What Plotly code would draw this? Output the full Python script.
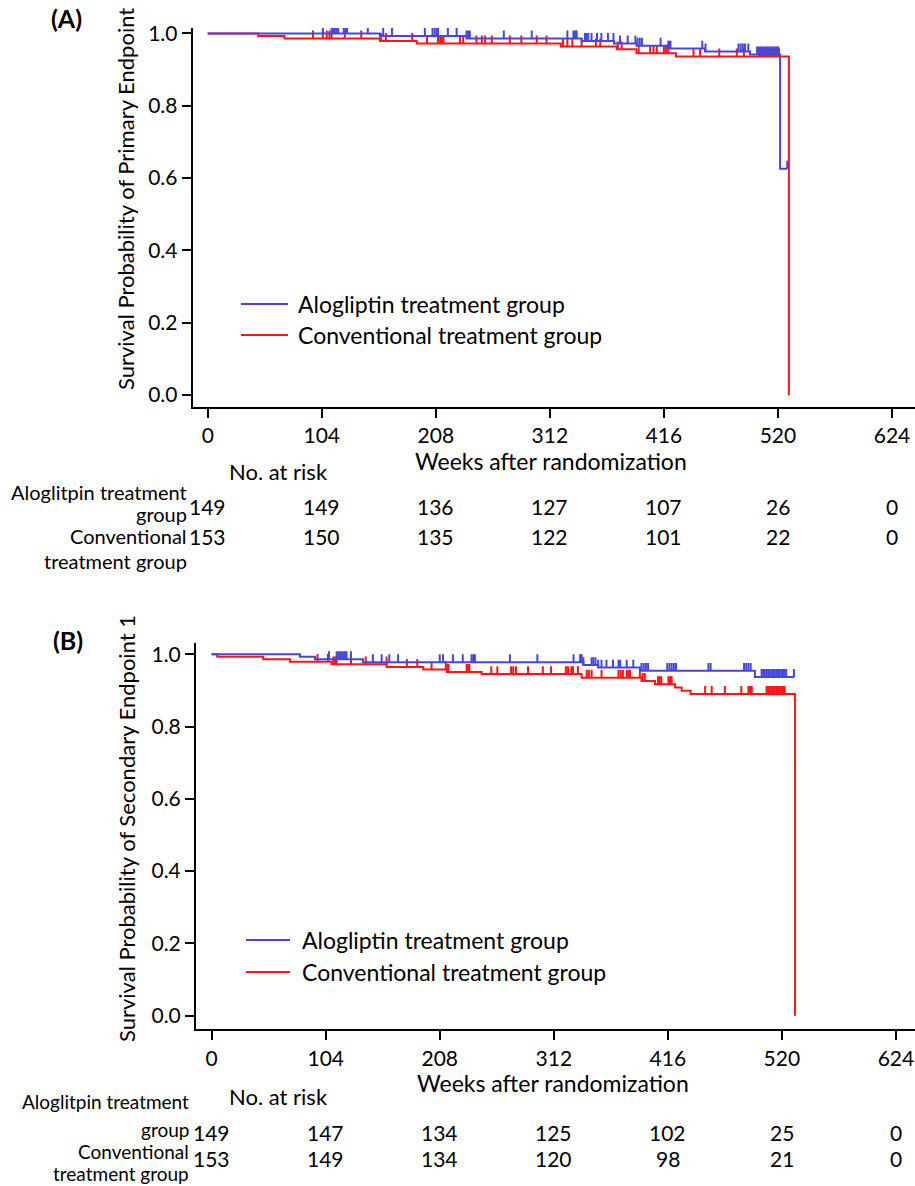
import plotly.graph_objects as go

W, H = 915, 1186
FONT = "Lato"
BLUE = "rgb(70,70,222)"
RED = "rgb(255,20,20)"

weeks_ticks = [0, 104, 208, 312, 416, 520, 624]
surv_ticks = [0.0, 0.2, 0.4, 0.6, 0.8, 1.0]

# ---------------- Panel A : primary endpoint ----------------
a_blue_times = [0, 157, 236, 341, 370.5, 391, 420, 453.5, 494.5, 522]
a_blue_surv = [1.0, 0.993, 0.986, 0.979, 0.972, 0.966, 0.958, 0.950, 0.942, 0.626]
a_blue_last = 528.5
a_blue_cens = [105, 113, 114.5, 116, 117.5, 119, 124, 125.5, 127, 146, 160, 168, 198,
               205, 207, 209, 210, 219, 227, 236, 237.5, 239, 270, 295.5, 328, 333.5,
               335, 336.5, 344, 345.5, 347, 350, 355, 359, 365, 370, 376, 383, 390,
               392, 394, 396, 413, 420, 421, 422, 451, 454, 484, 486, 488, 490, 493,
               501, 502.5, 504, 505.5, 507, 508.5, 510, 511.5, 513, 514.5, 516, 517.5,
               519, 520.5, 528.5]

a_red_times = [0, 46, 70, 157, 190.6, 322, 373, 391, 427, 530]
a_red_surv = [1.0, 0.993, 0.986, 0.979, 0.972, 0.964, 0.956, 0.945, 0.936, 0.0]
a_red_last = 530
a_red_cens = [96, 105, 108.5, 111, 113, 125, 140, 158, 162.5, 186.5, 200, 210, 212,
              213.5, 215, 230, 233, 245, 250, 253, 259, 275.5, 286, 300, 309, 324,
              328, 332.5, 341, 354, 358, 374, 377.5, 393, 403.5, 406.5, 409.5, 416,
              418, 420, 443, 449, 466.5, 482.5, 489, 503, 504.5, 506, 507.5, 509,
              510.5, 512, 513.5, 515, 516.5, 518, 519.5, 521]

a_risk_blue = [149, 149, 136, 127, 107, 26, 0]
a_risk_red = [153, 150, 135, 122, 101, 22, 0]

# ---------------- Panel B : secondary endpoint 1 ----------------
b_blue_times = [0, 80.5, 94.2, 138, 338.9, 352.5, 390.6, 495.4]
b_blue_surv = [1.0, 0.993, 0.986, 0.978, 0.970, 0.963, 0.954, 0.937]
b_blue_last = 531
b_blue_cens = [107, 114, 115.5, 117, 118.5, 120, 121.5, 123, 127, 147, 155, 162, 170,
               208, 211, 220, 229, 237, 238.5, 240, 272, 297, 330, 336, 337.5, 339,
               346.5, 348, 350, 352.5, 355.5, 360, 366, 371, 372.5, 378.5, 384.5, 392,
               394, 396, 398, 415.5, 417.5, 419.5, 421.5, 423.5, 453, 455, 485.5,
               487.5, 489.5, 491.5, 501.5, 503, 504.5, 506, 507.5, 509, 510.5, 512,
               513.5, 515, 516.5, 518, 519.5, 521, 522.5, 524, 531]

b_red_times = [0, 5.1, 47, 71.4, 109.4, 159.6, 193, 214.3, 246.2, 337.4, 392, 404.3,
               422.5, 428.6, 436.8, 532]
b_red_surv = [1.0, 0.993, 0.986, 0.979, 0.972, 0.965, 0.958, 0.951, 0.945, 0.935,
              0.926, 0.917, 0.908, 0.899, 0.890, 0.0]
b_red_last = 532
b_red_cens = [96.5, 106, 111, 112.5, 114, 127, 140.5, 159.5, 178, 187.5, 200.5, 213.5,
              215, 216, 232.5, 234, 235, 255, 260.5, 273, 275, 277.5, 288.5, 302,
              309.5, 323, 325, 328, 329.5, 334, 342, 344, 346.5, 355.5, 371, 373, 375,
              378.5, 380, 381.5, 390.5, 393, 395, 407, 408.5, 410, 416.5, 418, 419.5,
              450, 456, 468, 483, 489.5, 491, 492.5, 506, 507.5, 509, 510.5, 512,
              513.5, 515, 516.5, 518, 519.5, 521, 522.5]

b_risk_blue = [149, 147, 134, 125, 102, 25, 0]
b_risk_red = [153, 149, 134, 120, 98, 21, 0]

legend_labels = ["Alogliptin treatment group", "Conventional treatment group"]
row_label_blue = "Aloglitpin treatment"
row_label_red = "Conventional"
ytitle_a = "Survival Probability of Primary Endpoint"
ytitle_b = "Survival Probability of Secondary Endpoint 1"
xtitle = "Weeks after randomization"


def surv_at(t, times, surv):
    s = surv[0]
    for ti, si in zip(times, surv):
        if ti <= t:
            s = si
    return s


def px(x):
    return x / W


def py(y):
    return 1 - y / H


TICK_H = 0.022

fig = go.Figure()


def add_curves(times, surv, last, cens, color, xa, ya):
    fig.add_trace(go.Scatter(x=list(times) + [last], y=list(surv) + [surv[-1]],
                             mode="lines", line=dict(color=color, width=2, shape="hv"),
                             xaxis=xa, yaxis=ya, showlegend=False, hoverinfo="skip"))
    cy = [surv_at(t, times, surv) for t in cens]
    fig.add_trace(go.Scatter(x=cens, y=cy, mode="markers",
                             marker=dict(size=1, color="rgba(0,0,0,0)"),
                             error_y=dict(type="data", symmetric=False,
                                          array=[TICK_H] * len(cens),
                                          arrayminus=[0] * len(cens),
                                          width=0, thickness=2, color=color),
                             xaxis=xa, yaxis=ya, showlegend=False, hoverinfo="skip"))


add_curves(a_red_times, a_red_surv, a_red_last, a_red_cens, RED, "x", "y")
add_curves(a_blue_times, a_blue_surv, a_blue_last, a_blue_cens, BLUE, "x", "y")
add_curves(b_red_times, b_red_surv, b_red_last, b_red_cens, RED, "x2", "y2")
add_curves(b_blue_times, b_blue_surv, b_blue_last, b_blue_cens, BLUE, "x2", "y2")

axis_common = dict(showline=True, linecolor="black", linewidth=2, ticks="outside",
                   ticklen=9, tickwidth=2, tickcolor="black", showgrid=False,
                   zeroline=False, automargin=False,
                   tickfont=dict(family=FONT, size=21, color="black"))

fig.update_layout(
    width=W, height=H, autosize=False,
    margin=dict(l=0, r=0, t=0, b=0),
    paper_bgcolor="white", plot_bgcolor="white",
    showlegend=False,
    font=dict(family=FONT, color="black"),
    xaxis=dict(domain=[px(192.7), 1], range=[-13.7, 645], tickvals=weeks_ticks,
               anchor="y", **axis_common),
    yaxis=dict(domain=[py(406.7), py(28)], range=[-0.032, 1.015], tickvals=surv_ticks,
               tickformat=".1f", anchor="x", **axis_common),
    xaxis2=dict(domain=[px(196), 1], range=[-14.3, 641.4], tickvals=weeks_ticks,
                anchor="y2", **axis_common),
    yaxis2=dict(domain=[py(1029.3), py(643.4)], range=[-0.0376, 1.03],
                tickvals=surv_ticks, tickformat=".1f", anchor="x2", **axis_common),
)

ann = []
shapes = []


def text(x, y, s, size=22, xanchor="center", bold=False, angle=0, xref="paper"):
    ann.append(dict(x=x, y=py(y), xref=xref, yref="paper", text=(f"<b>{s}</b>" if bold else s),
                    showarrow=False, xanchor=xanchor, yanchor="middle", textangle=angle,
                    font=dict(family=FONT, size=size, color="black")))


# Panel labels
text(px(66), 18, "(A)", size=25, bold=True)
text(px(68), 640, "(B)", size=25, bold=True)

# Y titles
text(px(125), 199, ytitle_a, size=22, angle=-90)
text(px(127), 829, ytitle_b, size=22, angle=-90)

# X titles
text(px(551), 461, xtitle, size=23)
text(px(553), 1083, xtitle, size=23)


def legend(y_blue, y_red, x0, x1, xt):
    for y, c, lab in [(y_blue, BLUE, legend_labels[0]), (y_red, RED, legend_labels[1])]:
        shapes.append(dict(type="line", xref="paper", yref="paper", x0=px(x0), x1=px(x1),
                           y0=py(y), y1=py(y), line=dict(color=c, width=2)))
        text(px(xt), y, lab, size=23, xanchor="left")


legend(304, 335, 241, 288, 296)
legend(940, 972, 246, 290, 300)


def risk_table(xref, ys, risk_b, risk_r, label_x, lab_y, lab_size):
    text(px(278), ys[0], "No. at risk", size=22)
    for wk, v in zip(weeks_ticks, risk_b):
        text(wk, ys[1], str(v), size=21, xref=xref)
    for wk, v in zip(weeks_ticks, risk_r):
        text(wk, ys[2], str(v), size=21, xref=xref)
    text(px(label_x), lab_y[0], row_label_blue, size=lab_size, xanchor="right")
    text(px(label_x), lab_y[1], "group", size=lab_size, xanchor="right")
    text(px(label_x), lab_y[2], row_label_red, size=lab_size, xanchor="right")
    text(px(label_x), lab_y[3], "treatment group", size=lab_size, xanchor="right")


risk_table("x", [471, 507, 536], a_risk_blue, a_risk_red, 189, [492, 514, 536, 561], 20)
risk_table("x2", [1096, 1132, 1158], b_risk_blue, b_risk_red, 191,
           [1101, 1129, 1151, 1173], 19)

fig.update_layout(annotations=ann, shapes=shapes)
fig.write_html("out.html", config={"displayModeBar": False},
               post_script="document.body.style.margin='0px';")
